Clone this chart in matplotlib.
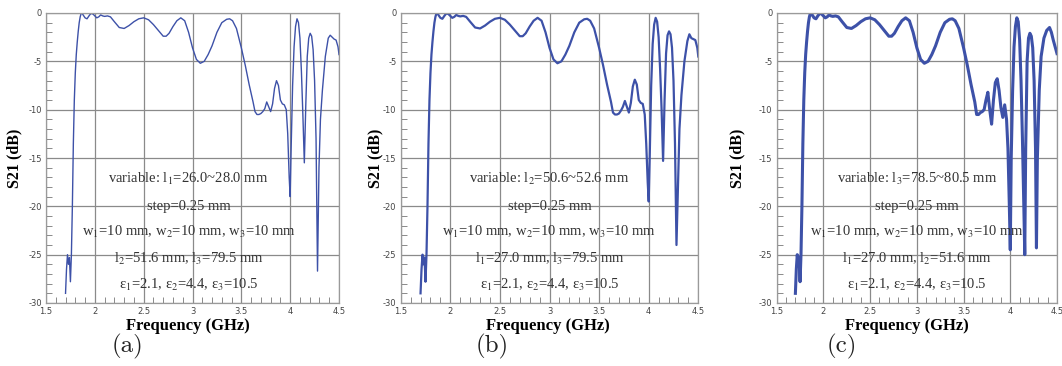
import matplotlib
matplotlib.use("Agg")
import matplotlib.pyplot as plt
from matplotlib.ticker import MultipleLocator, FormatStrFormatter

plt.rcParams["axes.unicode_minus"] = False
plt.rcParams["mathtext.fontset"] = "stix"

# shared passband part of S21 (all three sweeps nearly coincide here)
freq_pass = [1.70, 1.71, 1.72, 1.73, 1.74, 1.75, 1.76, 1.77, 1.78, 1.79, 1.80, 1.81, 1.82,
             1.83, 1.84, 1.85, 1.86, 1.87, 1.88, 1.90, 1.92, 1.94, 1.96, 1.98, 2.00, 2.02,
             2.04, 2.06, 2.08, 2.10, 2.13, 2.16, 2.20, 2.25, 2.30, 2.35, 2.40, 2.45, 2.50,
             2.55, 2.60, 2.65, 2.70, 2.73, 2.76, 2.80, 2.84, 2.88, 2.92, 2.96, 3.00, 3.04,
             3.08, 3.12, 3.16, 3.20, 3.25, 3.30, 3.35, 3.38, 3.41, 3.45, 3.50, 3.54, 3.58, 3.62]
s21_pass = [-29.0, -26.5, -25.0, -26.0, -25.3, -27.8, -25.0, -20.0, -13.5, -9.0, -6.2, -4.3, -3.0,
            -1.9, -1.0, -0.4, -0.05, 0.0, -0.2, -0.5, -0.6, -0.3, -0.05, -0.1, -0.3, -0.5,
            -0.4, -0.2, -0.3, -0.35, -0.3, -0.4, -0.9, -1.5, -1.6, -1.3, -0.9, -0.6, -0.5,
            -0.7, -1.2, -1.8, -2.4, -2.4, -2.1, -1.4, -0.8, -0.5, -0.8, -2.0, -3.6, -4.8,
            -5.2, -5.0, -4.3, -3.4, -2.0, -1.0, -0.65, -0.6, -0.8, -1.6, -3.6, -5.4, -7.4, -9.2]

# stopband part, per sweep
freq_a = [3.64, 3.66, 3.68, 3.70, 3.72, 3.74, 3.76, 3.78, 3.80, 3.82, 3.84, 3.86, 3.88, 3.90,
          3.92, 3.94, 3.96, 3.975, 3.99, 4.00, 4.01, 4.025, 4.04, 4.055, 4.07, 4.085, 4.10,
          4.115, 4.13, 4.145, 4.16, 4.175, 4.19, 4.205, 4.22, 4.235, 4.25, 4.265, 4.28, 4.295,
          4.31, 4.33, 4.36, 4.39, 4.41, 4.43, 4.45, 4.47, 4.49, 4.50]
s21_a = [-10.2, -10.5, -10.5, -10.4, -10.2, -9.9, -9.2, -9.7, -10.2, -9.4, -7.8, -7.0, -7.5, -9.0,
         -9.4, -9.5, -10.0, -12.5, -17.0, -19.0, -14.0, -7.5, -3.5, -1.4, -0.6, -1.0, -2.6,
         -6.0, -10.5, -15.5, -9.5, -4.5, -2.6, -2.1, -2.4, -3.8, -7.0, -13.0, -26.7, -16.0,
         -11.0, -8.0, -4.5, -2.6, -2.3, -2.5, -2.7, -2.8, -3.5, -4.3]

freq_b = [3.64, 3.66, 3.68, 3.70, 3.72, 3.74, 3.76, 3.78, 3.80, 3.82, 3.84, 3.86, 3.88, 3.90,
          3.92, 3.94, 3.96, 3.975, 3.99, 4.00, 4.01, 4.025, 4.04, 4.055, 4.07, 4.085, 4.10,
          4.115, 4.13, 4.145, 4.16, 4.175, 4.19, 4.205, 4.22, 4.235, 4.25, 4.265, 4.28, 4.295,
          4.31, 4.33, 4.36, 4.39, 4.41, 4.43, 4.45, 4.47, 4.49, 4.50]
s21_b = [-10.3, -10.5, -10.5, -10.4, -10.1, -9.7, -9.1, -9.7, -10.3, -9.3, -7.6, -6.9, -7.4, -9.0,
         -9.3, -9.4, -10.5, -13.5, -17.5, -19.5, -15.0, -7.5, -3.2, -1.2, -0.5, -0.9, -2.5,
         -5.8, -10.0, -15.3, -9.0, -4.2, -2.3, -1.9, -2.2, -3.6, -7.0, -13.5, -24.0, -18.0,
         -12.0, -8.5, -5.0, -2.9, -2.2, -2.6, -2.7, -2.8, -3.6, -4.5]

freq_c = [3.64, 3.66, 3.68, 3.70, 3.72, 3.74, 3.76, 3.78, 3.80, 3.82, 3.84, 3.86, 3.88, 3.90,
          3.92, 3.94, 3.96, 3.975, 3.99, 4.00, 4.01, 4.025, 4.04, 4.055, 4.07, 4.085, 4.10,
          4.115, 4.13, 4.145, 4.155, 4.165, 4.18, 4.195, 4.21, 4.225, 4.24, 4.255, 4.27, 4.28,
          4.29, 4.31, 4.33, 4.36, 4.39, 4.42, 4.44, 4.46, 4.48, 4.50]
s21_c = [-10.5, -10.5, -10.3, -10.2, -10.0, -9.0, -8.2, -10.0, -11.5, -9.0, -7.2, -6.8, -8.0, -9.8,
         -10.8, -9.5, -11.0, -14.0, -20.0, -24.5, -15.0, -8.0, -3.5, -1.4, -0.5, -0.9, -2.8,
         -7.0, -13.0, -20.0, -25.0, -14.0, -5.0, -2.6, -2.1, -2.4, -3.6, -7.0, -14.0, -24.3,
         -15.0, -8.0, -4.5, -2.6, -1.8, -1.5, -2.0, -2.8, -3.5, -4.2]

notes_a = [r"variable: l$_1$=26.0~28.0 mm", "step=0.25 mm",
           r"w$_1$=10 mm, w$_2$=10 mm, w$_3$=10 mm", r"l$_2$=51.6 mm, l$_3$=79.5 mm",
           r"ε$_1$=2.1, ε$_2$=4.4, ε$_3$=10.5"]
notes_b = [r"variable: l$_2$=50.6~52.6 mm", "step=0.25 mm",
           r"w$_1$=10 mm, w$_2$=10 mm, w$_3$=10 mm", r"l$_1$=27.0 mm, l$_3$=79.5 mm",
           r"ε$_1$=2.1, ε$_2$=4.4, ε$_3$=10.5"]
notes_c = [r"variable: l$_3$=78.5~80.5 mm", "step=0.25 mm",
           r"w$_1$=10 mm, w$_2$=10 mm, w$_3$=10 mm", r"l$_1$=27.0 mm, l$_2$=51.6 mm",
           r"ε$_1$=2.1, ε$_2$=4.4, ε$_3$=10.5"]
note_y = [-17.2, -20.0, -22.6, -25.4, -28.1]
panel_tags = ["(a)", "(b)", "(c)"]

fig = plt.figure(figsize=(10.62, 3.66), dpi=100)

# axes boxes in pixels: left, right, ylabel x, xlabel frac, tag x
panels = [
    (46, 339, 14, 0.485, 128, freq_a, s21_a, notes_a, 1.0, 2.96),
    (400.7, 698.3, 375, 0.495, 492, freq_b, s21_b, notes_b, 1.6, 3.0),
    (776.7, 1057, 737, 0.466, 842, freq_c, s21_c, notes_c, 2.2, 3.0),
]
W, H = 1062.0, 366.0
top_px, bot_px = 13, 303
line_color = "#3d51a8"

for i, (x0, x1, ylab_x, xlab_f, tag_x, fr, s, notes, lw, note_x) in enumerate(panels):
    ax = fig.add_axes([x0 / W, 1 - bot_px / H, (x1 - x0) / W, (bot_px - top_px) / H])
    ax.plot(freq_pass + fr, s21_pass + s, color=line_color, lw=lw)
    ax.set_xlim(1.5, 4.5)
    ax.set_ylim(-30, 0)
    ax.xaxis.set_major_locator(MultipleLocator(0.5))
    ax.xaxis.set_minor_locator(MultipleLocator(0.1))
    ax.yaxis.set_major_locator(MultipleLocator(5))
    ax.yaxis.set_minor_locator(MultipleLocator(1))
    ax.xaxis.set_major_formatter(FormatStrFormatter("%g"))
    ax.yaxis.set_major_formatter(FormatStrFormatter("%g"))
    ax.grid(True, which="major", color="#8a8a8a", lw=0.9)
    ax.tick_params(which="both", direction="in", colors="#777777", labelcolor="#444444",
                   labelsize=6, pad=3)
    ax.tick_params(which="major", length=0)
    ax.tick_params(which="minor", length=4, width=0.6)
    for sp in ax.spines.values():
        sp.set_color("#9a9a9a")
        sp.set_linewidth(0.9)
    ax.set_ylabel("S21 (dB)", family="Liberation Serif", weight="bold", fontsize=11.5,
                  va="center")
    ax.yaxis.set_label_coords((ylab_x - x0) / (x1 - x0), 0.5)
    ax.set_xlabel("Frequency (GHz)", family="Liberation Serif", weight="bold", fontsize=12,
                  va="center")
    ax.xaxis.set_label_coords(xlab_f, -23 / (bot_px - top_px))
    for t, yv in zip(notes, note_y):
        ax.text(note_x, yv, t, ha="center", va="center", family="Liberation Serif",
                fontsize=10.5, color="#333333")
    fig.text(tag_x / W, 1 - 346 / H, panel_tags[i], family="cmr10", fontsize=18,
             ha="center", va="center", color="#222222")

fig.savefig("out.png", dpi=100)
